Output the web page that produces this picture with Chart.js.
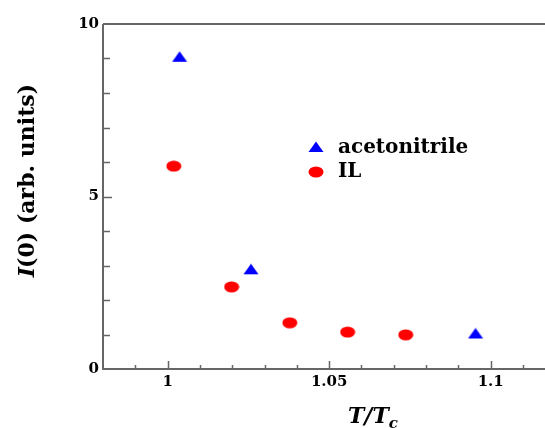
<!DOCTYPE html>
<html>
<head>
<meta charset="utf-8">
<script src="https://cdn.jsdelivr.net/npm/chart.js@4"></script>
<style>
  html, body { margin: 0; padding: 0; background: #fff; }
  canvas { display: block; }
</style>
</head>
<body>
<canvas id="myChart" width="545" height="428"></canvas>
<script>
// reduced temperature T/Tc and I(0)
const tempAcn = [1.0037, 1.0258, 1.0953];
const intensityAcn = [9.05, 2.89, 1.03];
const tempIL = [1.0019, 1.0198, 1.0378, 1.0557, 1.0737];
const intensityIL = [5.88, 2.38, 1.34, 1.07, 0.99];

const xTickValues = [0.99, 1, 1.01, 1.02, 1.03, 1.04, 1.05, 1.06, 1.07, 1.08, 1.09, 1.1, 1.11];
const xTickLabels = { '1': '1', '1.05': '1.05', '1.1': '1.1' };
const yTickValues = [1, 2, 3, 4, 5, 6, 7, 8, 9];
const yTickLabels = ['0', '5', '10'];

const FONT = '"DejaVu Serif", "Liberation Serif", serif';
const AXIS_COLOR = '#666666';

function makeMarker(shape, color) {
    const c = document.createElement('canvas');
    c.width = 16;
    c.height = 12;
    const g = c.getContext('2d');
    g.fillStyle = color;
    g.beginPath();
    if (shape === 'triangle') {
        g.moveTo(8, 0.5);
        g.lineTo(15.5, 11);
        g.lineTo(0.5, 11);
        g.closePath();
    } else {
        g.ellipse(8, 6, 7.5, 5.5, 0, 0, 2 * Math.PI);
    }
    g.fill();
    return c;
}

const triangle = makeMarker('triangle', '#0000ff');
const ellipse = makeMarker('ellipse', '#ff0000');

// axes, inward ticks, tick labels, titles and the legend
const frame = {
    id: 'frame',
    beforeDatasetsDraw(chart) {
        const ctx = chart.ctx;
        const a = chart.chartArea;
        const xs = chart.scales.x;
        const ys = chart.scales.y;
        ctx.save();
        ctx.strokeStyle = AXIS_COLOR;
        ctx.lineWidth = 2;
        ctx.beginPath();
        ctx.moveTo(a.left, a.top);
        ctx.lineTo(a.right, a.top);
        ctx.moveTo(a.left, a.top);
        ctx.lineTo(a.left, a.bottom);
        ctx.lineTo(a.right, a.bottom);
        ctx.stroke();

        ctx.lineWidth = 1.5;
        ctx.beginPath();
        xTickValues.forEach(v => {
            const px = Math.round(xs.getPixelForValue(v)) + 0.5;
            const len = xTickLabels[String(v)] ? 8 : 4;
            ctx.moveTo(px, a.bottom);
            ctx.lineTo(px, a.bottom - len);
        });
        yTickValues.forEach(v => {
            const py = Math.round(ys.getPixelForValue(v)) + 0.5;
            const len = v === 5 ? 9 : 7;
            ctx.moveTo(a.left, py);
            ctx.lineTo(a.left + len, py);
        });
        ctx.stroke();

        ctx.fillStyle = '#000';
        ctx.font = 'bold 15px ' + FONT;
        ctx.textAlign = 'center';
        ctx.textBaseline = 'middle';
        Object.keys(xTickLabels).forEach(k => {
            ctx.fillText(xTickLabels[k], xs.getPixelForValue(Number(k)), a.bottom + 13);
        });
        ctx.textAlign = 'right';
        yTickLabels.forEach(t => {
            ctx.fillText(t, a.left - 4, ys.getPixelForValue(Number(t)));
        });

        // y title: italic I, rest bold
        ctx.save();
        ctx.translate(28, 180);
        ctx.rotate(-Math.PI / 2);
        ctx.textAlign = 'left';
        ctx.textBaseline = 'middle';
        ctx.font = 'italic bold 22px ' + FONT;
        const w1 = ctx.measureText('I').width;
        ctx.font = 'bold 22px ' + FONT;
        const w2 = ctx.measureText('(0) (arb. units)').width;
        let start = -(w1 + w2) / 2;
        ctx.font = 'italic bold 22px ' + FONT;
        ctx.fillText('I', start, 0);
        ctx.font = 'bold 22px ' + FONT;
        ctx.fillText('(0) (arb. units)', start + w1 - 1, 0);
        ctx.restore();

        // x title T/Tc
        ctx.textAlign = 'left';
        ctx.textBaseline = 'alphabetic';
        ctx.font = 'italic bold 22px ' + FONT;
        ctx.fillText('T/T', 348, 423);
        const wt = ctx.measureText('T/T').width;
        ctx.font = 'italic bold 15px ' + FONT;
        ctx.fillText('c', 348 + wt, 428);

        // legend
        ctx.drawImage(triangle, 316 - 8, 147 - 6);
        ctx.drawImage(ellipse, 316 - 8, 172 - 6);
        ctx.font = 'bold 20px ' + FONT;
        ctx.textBaseline = 'middle';
        ctx.fillText('acetonitrile', 338, 148);
        ctx.fillText('IL', 338, 172);
        ctx.restore();
    }
};

new Chart(document.getElementById('myChart'), {
    type: 'scatter',
    data: {
        datasets: [{
            label: 'acetonitrile',
            data: tempAcn.map((t, i) => ({ x: t, y: intensityAcn[i] })),
            pointStyle: triangle,
            pointRadius: 8
        }, {
            label: 'IL',
            data: tempIL.map((t, i) => ({ x: t, y: intensityIL[i] })),
            pointStyle: ellipse,
            pointRadius: 8
        }]
    },
    options: {
        responsive: false,
        animation: false,
        clip: false,
        layout: {
            autoPadding: false,
            padding: { left: 103, top: 24, right: 0, bottom: 59 }
        },
        plugins: {
            legend: { display: false },
            tooltip: { enabled: false }
        },
        scales: {
            x: { type: 'linear', display: false, min: 0.98, max: 1.1168 },
            y: { type: 'linear', display: false, min: 0, max: 10 }
        }
    },
    plugins: [frame]
});
</script>
</body>
</html>
